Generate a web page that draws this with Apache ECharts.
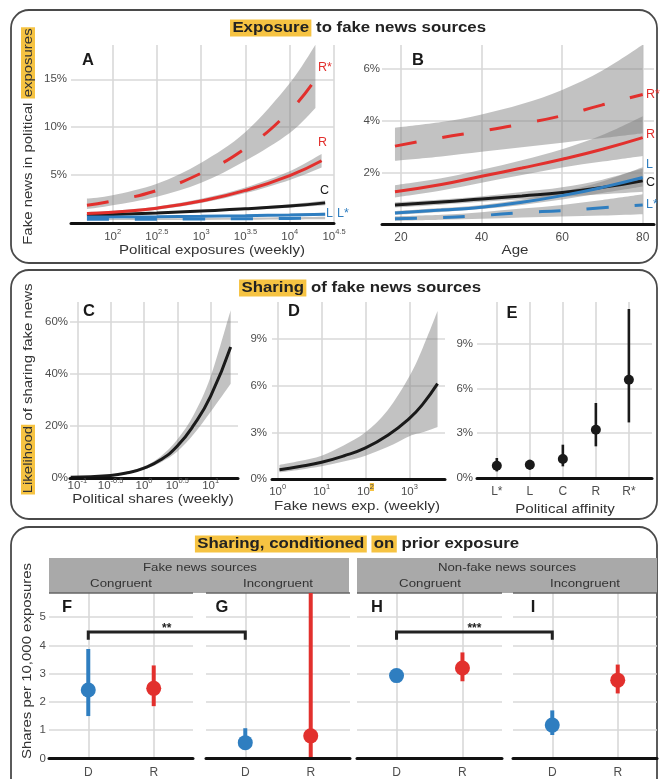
<!DOCTYPE html>
<html><head><meta charset="utf-8">
<script src="https://cdn.jsdelivr.net/npm/echarts@6/dist/echarts.min.js"></script>
<style>html,body{margin:0;padding:0;background:#fff}#c{width:660px;height:779px}</style>
</head><body><div id="c"></div>
<script>
// ================= DATA =================
// Panel A: x = log10(political exposures, weekly), y = % fake news in political exposures
const aXRs = [1.71, 2.0, 2.5, 3.0, 3.5, 4.0, 4.29];
const aRs   = [1.85, 2.3, 3.4, 5.2, 7.8, 11.7, 15.0];
const aRsLo = [1.45, 1.85, 2.75, 4.2, 6.5, 9.4, 12.0];
const aRsHi = [2.55, 2.9, 4.1, 6.3, 9.5, 14.6, 18.6];
const aXR = [1.71, 2.0, 2.5, 3.0, 3.5, 4.0, 4.36];
const aR   = [0.98, 1.12, 1.55, 2.3, 3.4, 4.95, 6.5];
const aRLo = [0.82, 0.98, 1.38, 2.08, 3.12, 4.5, 5.8];
const aRHi = [1.14, 1.27, 1.72, 2.52, 3.7, 5.4, 7.2];
const aXC = [1.71, 2.0, 2.5, 3.0, 3.5, 4.0, 4.4];
const aC   = [0.8, 0.9, 1.05, 1.25, 1.48, 1.78, 2.1];
const aCLo = [0.68, 0.8, 0.96, 1.15, 1.36, 1.6, 1.85];
const aCHi = [0.92, 1.0, 1.14, 1.35, 1.6, 1.96, 2.35];
const aXL = [1.71, 2.5, 3.0, 3.5, 4.0, 4.4];
const aL   = [0.62, 0.66, 0.7, 0.76, 0.84, 0.92];
const aLLo = [0.54, 0.58, 0.61, 0.66, 0.72, 0.78];
const aLHi = [0.7, 0.74, 0.79, 0.86, 0.96, 1.06];
const aLs   = [0.38, 0.4, 0.42, 0.45, 0.48, 0.52];
const aLsLo = [0.3, 0.31, 0.32, 0.34, 0.36, 0.38];
const aLsHi = [0.46, 0.49, 0.52, 0.56, 0.6, 0.66];
const aXTicks = [2, 2.5, 3, 3.5, 4, 4.5];
const aYTicks = [5, 10, 15];

// Panel B: x = age, y = %
const bAge = [18.5, 30, 40, 50, 60, 70, 80];
const bRs   = [3.02, 3.35, 3.6, 3.88, 4.2, 4.62, 5.02];
const bRsLo = [2.45, 2.62, 2.8, 2.98, 3.15, 3.33, 3.52];
const bRsHi = [3.73, 3.95, 4.25, 4.65, 5.2, 5.95, 6.95];
const bR   = [1.25, 1.53, 1.85, 2.17, 2.51, 2.9, 3.35];
const bRLo = [1.03, 1.3, 1.6, 1.9, 2.19, 2.42, 2.64];
const bRHi = [1.5, 1.77, 2.1, 2.47, 2.9, 3.45, 4.18];
const bC   = [0.74, 0.85, 0.97, 1.09, 1.22, 1.42, 1.68];
const bCLo = [0.64, 0.75, 0.86, 0.96, 1.05, 1.15, 1.25];
const bCHi = [0.84, 0.95, 1.08, 1.24, 1.42, 1.72, 2.15];
const bL   = [0.43, 0.54, 0.65, 0.84, 1.1, 1.42, 1.8];
const bLLo = [0.36, 0.47, 0.58, 0.74, 0.95, 1.2, 1.45];
const bLHi = [0.5, 0.62, 0.74, 0.95, 1.25, 1.65, 2.2];
const bLs   = [0.2, 0.25, 0.33, 0.44, 0.52, 0.63, 0.74];
const bLsLo = [0.12, 0.16, 0.2, 0.25, 0.29, 0.33, 0.38];
const bLsHi = [0.3, 0.36, 0.46, 0.6, 0.74, 0.93, 1.15];
const bXTicks = [20, 40, 60, 80];
const bYTicks = [2, 4, 6];

// Panel C: x = log10(political shares, weekly), y = % likelihood
const cX  = [-1.1, -0.5, -0.25, 0, 0.25, 0.5, 0.75, 1.0, 1.3];
const cY  = [0.3, 1.0, 2.0, 3.8, 7.0, 12.3, 20.5, 31.5, 50.4];
const cLo = [0.2, 0.8, 1.7, 3.3, 6.0, 10.2, 17.0, 25.5, 36.3];
const cHi = [0.4, 1.2, 2.4, 4.5, 8.3, 14.8, 24.5, 39.0, 64.5];
const cXTicks = [-1, -0.5, 0, 0.5, 1];
const cYTicks = [0, 20, 40, 60];

// Panel D: x = log10(fake news exposures, weekly)
const dX  = [0.04, 0.5, 1, 1.5, 2, 2.5, 3, 3.3, 3.64];
const dY  = [0.6, 0.8, 1.08, 1.48, 2.0, 2.8, 3.9, 4.8, 6.13];
const dLo = [0.43, 0.6, 0.82, 1.12, 1.5, 2.05, 2.75, 3.0, 3.35];
const dHi = [0.9, 1.15, 1.5, 2.15, 3.0, 4.4, 6.6, 8.4, 10.8];
const dXTicks = [0, 1, 2, 3];
const dYTicks = [0, 3, 6, 9];

// Panel E: political affinity
const eCats = ['L*', 'L', 'C', 'R', 'R*'];
const eMean = [0.82, 0.89, 1.27, 3.23, 6.58];
const eLo   = [0.44, 0.56, 0.78, 2.12, 3.72];
const eHi   = [1.34, 1.22, 2.23, 5.02, 11.31];
const eYTicks = [0, 3, 6, 9];

// Panels F-I: shares per 10,000 exposures (D, R)
const fiCats = ['D', 'R'];
const fMean = [2.42, 2.48], fLo = [1.5, 1.85],  fHi = [3.87, 3.29];
const gMean = [0.56, 0.8],  gLo = [0.33, 0],    gHi = [1.07, 8];
const hMean = [2.93, 3.2],  hLo = [2.82, 2.73], hHi = [3.05, 3.75];
const iMean = [1.18, 2.77], iLo = [0.83, 2.3],  iHi = [1.7, 3.32];
const fiYTicks = [1, 2, 3, 4, 5];
const bracketY = 4.47, bracketEnd = 4.2;

// ================= STYLE =================
const FONT = 'Liberation Sans, Arial, sans-serif';
const RED = '#e2302d', BLUE = '#2f7ec0', BLACK = '#1a1a1a';
const BAND = 'rgba(128,128,128,0.48)';
const GRIDC = '#d9d9d9', LAB = '#4d4d4d', YEL = '#f6c342';

const grids = [
  {left: 71, top: 45, width: 263, height: 178},   // A
  {left: 382, top: 45, width: 272, height: 179},  // B
  {left: 70, top: 302, width: 168, height: 176},  // C
  {left: 272, top: 302, width: 173, height: 177}, // D
  {left: 477, top: 302, width: 175, height: 176}, // E
  {left: 49, top: 593, width: 144, height: 166},  // F
  {left: 206, top: 593, width: 144, height: 166}, // G
  {left: 357, top: 593, width: 145, height: 166}, // H
  {left: 513, top: 593, width: 144, height: 166}  // I
];

const supRich = {
  b: {fontSize: 11.5, color: LAB, lineHeight: 18, fontFamily: FONT},
  s: {fontSize: 7.5, color: LAB, lineHeight: 9, verticalAlign: 'top', fontFamily: FONT},
  h: {fontSize: 7.5, color: LAB, lineHeight: 9, verticalAlign: 'top', fontFamily: FONT, backgroundColor: YEL}
};
const fmtE = v => String(Math.round(v * 10) / 10);

function baseX(gi, min, max) {
  return {type: 'value', gridIndex: gi, min, max, z: 10,
    axisLine: {show: true, onZero: false, lineStyle: {color: '#111', width: 3}},
    axisTick: {show: false}, splitLine: {show: false}};
}
function xLog(gi, min, max, ticks, margin, hl) {
  const a = baseX(gi, min, max);
  a.axisLabel = {customValues: ticks, margin, rich: supRich,
    formatter: v => '{b|10}{' + (v === hl ? 'h' : 's') + '|' + fmtE(v) + '}'};
  return a;
}
function xPlain(gi, min, max, ticks, margin, fmt) {
  const a = baseX(gi, min, max);
  a.axisLabel = {customValues: ticks, margin, color: LAB, fontSize: 12, fontFamily: FONT, formatter: fmt};
  return a;
}
function yAx(gi, max, ticks, margin, fmt, show) {
  return {type: 'value', gridIndex: gi, min: 0, max,
    axisLine: {show: false}, axisTick: {show: false}, splitLine: {show: false},
    axisLabel: {show: show !== false, customValues: ticks, margin, color: LAB, fontSize: 11.5, fontFamily: FONT,
      formatter: fmt}};
}
function gridLines(gi, xv, yv) {
  return {type: 'line', xAxisIndex: gi, yAxisIndex: gi, data: [], silent: true, z: 1,
    markLine: {silent: true, z: 1, animation: false, symbol: ['none', 'none'], label: {show: false},
      emphasis: {disabled: true},
      lineStyle: {color: GRIDC, width: 1.6, type: 'solid'},
      data: [...xv.map(v => ({xAxis: v})), ...yv.map(v => ({yAxis: v}))]}};
}
// Catmull-Rom -> cubic Bezier path segments through pixel points
function bez(p) {
  let d = '';
  for (let i = 0; i < p.length - 1; i++) {
    const p0 = p[Math.max(i - 1, 0)], p1 = p[i], p2 = p[i + 1], p3 = p[Math.min(i + 2, p.length - 1)];
    const c1 = [p1[0] + (p2[0] - p0[0]) / 6, p1[1] + (p2[1] - p0[1]) / 6];
    const c2 = [p2[0] - (p3[0] - p1[0]) / 6, p2[1] - (p3[1] - p1[1]) / 6];
    d += ' C' + c1[0] + ' ' + c1[1] + ' ' + c2[0] + ' ' + c2[1] + ' ' + p2[0] + ' ' + p2[1];
  }
  return d;
}
function band(gi, xs, lo, hi) {
  return {type: 'custom', xAxisIndex: gi, yAxisIndex: gi, z: 2, silent: true, clip: true,
    data: [[xs[0], lo[0]]],
    renderItem: (params, api) => {
      const up = xs.map((x, i) => api.coord([x, hi[i]]));
      const dn = xs.map((x, i) => api.coord([x, lo[i]])).reverse();
      const d = 'M' + up[0][0] + ' ' + up[0][1] + bez(up) + ' L' + dn[0][0] + ' ' + dn[0][1] + bez(dn) + ' Z';
      return {type: 'path', shape: {pathData: d}, style: {fill: BAND, stroke: null}};
    }};
}
function curve(gi, xs, ys, color, dashed) {
  return {type: 'line', xAxisIndex: gi, yAxisIndex: gi, smooth: true, showSymbol: false, silent: true, z: 3,
    lineStyle: {color, width: 3, type: dashed ? [22, 26] : 'solid', cap: 'butt'},
    data: xs.map((x, i) => [x, ys[i]])};
}
function errBars(gi, lo, hi, colors, width) {
  return {type: 'custom', xAxisIndex: gi, yAxisIndex: gi, z: 3, silent: true,
    data: lo.map((l, i) => [i, l, hi[i]]), encode: {x: 0, y: [1, 2]},
    renderItem: (params, api) => {
      const a = api.coord([api.value(0), api.value(1)]);
      const b = api.coord([api.value(0), api.value(2)]);
      const cs = params.coordSys;
      const cl = y => Math.min(Math.max(y, cs.y), cs.y + cs.height);
      return {type: 'line', shape: {x1: a[0], y1: cl(a[1]), x2: b[0], y2: cl(b[1])},
        style: {stroke: colors[params.dataIndex], lineWidth: width}};
    }};
}
function points(gi, means, colors, size) {
  return {type: 'scatter', xAxisIndex: gi, yAxisIndex: gi, z: 4, silent: true, symbolSize: size,
    data: means.map((m, i) => ({value: [i, m], itemStyle: {color: colors[i], opacity: 1}}))};
}

const xAxes = [
  xLog(0, 1.53, 4.5, aXTicks, 5),
  xPlain(1, 15.28, 82.8, bXTicks, 7.5, v => String(v)),
  xLog(2, -1.11, 1.41, cXTicks, -1),
  xLog(3, -0.13, 3.81, dXTicks, 4, 2),
  xPlain(4, -0.6, 4.7, [0, 1, 2, 3, 4], 7.5, v => eCats[v]),
  xPlain(5, -0.6, 1.6, [0, 1], 8.5, v => fiCats[v]),
  xPlain(6, -0.6, 1.6, [0, 1], 8.5, v => fiCats[v]),
  xPlain(7, -0.6, 1.6, [0, 1], 8.5, v => fiCats[v]),
  xPlain(8, -0.6, 1.6, [0, 1], 8.5, v => fiCats[v])
];
const pct = v => v + '%';
const yAxes = [
  yAx(0, 18.58, aYTicks, 4, pct),
  yAx(1, 6.94, bYTicks, 2, pct),
  yAx(2, 67.7, cYTicks, 2, pct),
  yAx(3, 11.38, dYTicks, 5, pct),
  yAx(4, 11.78, eYTicks, 4, pct),
  yAx(5, 5.85, [0, 1, 2, 3, 4, 5], 3, v => String(v)),
  yAx(6, 5.85, [], 3, v => '', false),
  yAx(7, 5.85, [], 3, v => '', false),
  yAx(8, 5.85, [], 3, v => '', false)
];

const series = [
  gridLines(0, aXTicks, aYTicks),
  gridLines(1, bXTicks, bYTicks),
  gridLines(2, cXTicks, cYTicks.slice(1)),
  gridLines(3, dXTicks, dYTicks.slice(1)),
  gridLines(4, [0, 1, 2, 3, 4], eYTicks.slice(1)),
  gridLines(5, [0, 1], fiYTicks), gridLines(6, [0, 1], fiYTicks),
  gridLines(7, [0, 1], fiYTicks), gridLines(8, [0, 1], fiYTicks),
  // A
  band(0, aXRs, aRsLo, aRsHi), band(0, aXR, aRLo, aRHi), band(0, aXC, aCLo, aCHi),
  band(0, aXL, aLLo, aLHi), band(0, aXL, aLsLo, aLsHi),
  curve(0, aXC, aC, BLACK), curve(0, aXL, aL, BLUE), curve(0, aXL, aLs, BLUE, true),
  curve(0, aXR, aR, RED), curve(0, aXRs, aRs, RED, true),
  // B
  band(1, bAge, bRsLo, bRsHi), band(1, bAge, bRLo, bRHi), band(1, bAge, bCLo, bCHi),
  band(1, bAge, bLLo, bLHi), band(1, bAge, bLsLo, bLsHi),
  curve(1, bAge, bC, BLACK), curve(1, bAge, bL, BLUE), curve(1, bAge, bLs, BLUE, true),
  curve(1, bAge, bR, RED), curve(1, bAge, bRs, RED, true),
  // C, D
  band(2, cX, cLo, cHi), curve(2, cX, cY, BLACK),
  band(3, dX, dLo, dHi), curve(3, dX, dY, BLACK),
  // E
  errBars(4, eLo, eHi, eCats.map(() => BLACK), 2.6), points(4, eMean, eCats.map(() => BLACK), 10),
  // F-I
  errBars(5, fLo, fHi, [BLUE, RED], 4), points(5, fMean, [BLUE, RED], 15),
  errBars(6, gLo, gHi, [BLUE, RED], 4), points(6, gMean, [BLUE, RED], 15),
  errBars(7, hLo, hHi, [BLUE, RED], 4), points(7, hMean, [BLUE, RED], 15),
  errBars(8, iLo, iHi, [BLUE, RED], 4), points(8, iMean, [BLUE, RED], 15)
];

const chart = echarts.init(document.getElementById('c'), null, {renderer: 'canvas'});
chart.setOption({
  animation: false,
  backgroundColor: '#fff',
  textStyle: {fontFamily: FONT},
  grid: grids, xAxis: xAxes, yAxis: yAxes, series
});

// ================= ANNOTATIONS =================
const G = [];
function txt(x, y, text, o) {
  o = o || {};
  G.push({type: 'text', x, y, z: 50, rotation: o.rot || 0, scaleX: o.sx || 1,
    style: {text, fill: o.fill || '#222', font: (o.bold ? 'bold ' : '') + (o.size || 12) + 'px ' + FONT,
      align: o.align || 'center', verticalAlign: 'middle', rich: o.rich}});
}
// boxes
[[11, 10, 646, 253], [11, 270, 646, 249], [11, 527, 646, 300]].forEach(b => G.push({
  type: 'rect', z: 0, shape: {x: b[0], y: b[1], width: b[2], height: b[3], r: 18},
  style: {fill: 'none', stroke: '#4a4a4a', lineWidth: 1.8}}));
// titles
const tRich = {
  h: {fontSize: 14, fontWeight: 'bold', fontFamily: FONT, fill: '#222', backgroundColor: YEL, padding: [2, 2, 1, 2]},
  n: {fontSize: 14, fontWeight: 'bold', fontFamily: FONT, fill: '#222'}
};
txt(358, 28, '{h|Exposure}{n| to fake news sources}', {rich: tRich, sx: 1.2});
txt(360, 288, '{h|Sharing}{n| of fake news sources}', {rich: tRich, sx: 1.2});
txt(357, 544, '{h|Sharing, conditioned}{n| }{h|on}{n| prior exposure}', {rich: tRich, sx: 1.2});
// y-axis titles
const yRich = {
  h: {fontSize: 13, fontFamily: FONT, fill: '#333', backgroundColor: YEL, padding: [1, 1, 0, 1]},
  n: {fontSize: 13, fontFamily: FONT, fill: '#333'}
};
txt(28, 136, '{n|Fake news in political }{h|exposures}', {rich: yRich, rot: Math.PI / 2, sx: 1.15});
txt(28, 389, '{h|Likelihood}{n| of sharing fake news}', {rich: yRich, rot: Math.PI / 2, sx: 1.15});
txt(27, 661, '{n|Shares per 10,000 exposures}', {rich: yRich, rot: Math.PI / 2, sx: 1.15});
// x-axis titles
const xt = {size: 13, fill: '#333', sx: 1.16};
txt(212, 250, 'Political exposures (weekly)', xt);
txt(515, 250, 'Age', xt);
txt(153, 499, 'Political shares (weekly)', xt);
txt(357, 506, 'Fake news exp. (weekly)', xt);
txt(565, 509, 'Political affinity', xt);
// panel letters
[['A', 88, 60], ['B', 418, 60], ['C', 89, 311], ['D', 294, 311], ['E', 512, 313],
 ['F', 67, 607], ['G', 222, 607], ['H', 377, 607], ['I', 533, 607]].forEach(l =>
  txt(l[1], l[2], l[0], {bold: true, size: 16.5, fill: BLACK}));
// curve labels
const cl = (x, y, t, c) => txt(x, y, t, {align: 'left', size: 12.5, fill: c});
cl(318, 68, 'R*', RED); cl(318, 143, 'R', RED); cl(320, 191, 'C', BLACK);
cl(326, 214, 'L', BLUE); cl(337, 214, 'L*', BLUE);
cl(646, 95, 'R*', RED); cl(646, 135, 'R', RED); cl(646, 165, 'L', BLUE);
cl(646, 183, 'C', BLACK); cl(646, 205, 'L*', BLUE);
// strips
G.push({type: 'rect', z: 1, shape: {x: 49, y: 558, width: 300, height: 35}, style: {fill: '#a9a9a9'}});
G.push({type: 'rect', z: 1, shape: {x: 357, y: 558, width: 300, height: 35}, style: {fill: '#a9a9a9'}});
[[49, 193], [206, 350], [357, 502], [513, 657]].forEach(s => G.push({type: 'line', z: 2,
  shape: {x1: s[0], y1: 593, x2: s[1], y2: 593}, style: {stroke: '#666', lineWidth: 1.5}}));
const st = {size: 11.5, fill: '#333', sx: 1.15};
txt(200, 568, 'Fake news sources', st);
txt(507, 568, 'Non-fake news sources', st);
txt(121, 584, 'Congruent', st); txt(278, 584, 'Incongruent', st);
txt(430, 584, 'Congruent', st); txt(585, 584, 'Incongruent', st);
// significance brackets (positions through the chart's scales)
function bracket(g1, g2, stars) {
  const p1 = chart.convertToPixel({gridIndex: g1}, [0, bracketY]);
  const p2 = chart.convertToPixel({gridIndex: g2}, [0, bracketY]);
  const e = chart.convertToPixel({gridIndex: g1}, [0, bracketEnd]);
  G.push({type: 'polyline', z: 40, shape: {points: [[p1[0], e[1]], p1, p2, [p2[0], e[1]]]},
    style: {stroke: '#222', lineWidth: 3, fill: 'none'}});
  txt((p1[0] + p2[0]) / 2, p1[1] - 3, stars, {size: 12, fill: '#222', bold: true});
}
bracket(5, 6, '**');
bracket(7, 8, '***');
chart.setOption({graphic: {elements: G}});
</script></body></html>
